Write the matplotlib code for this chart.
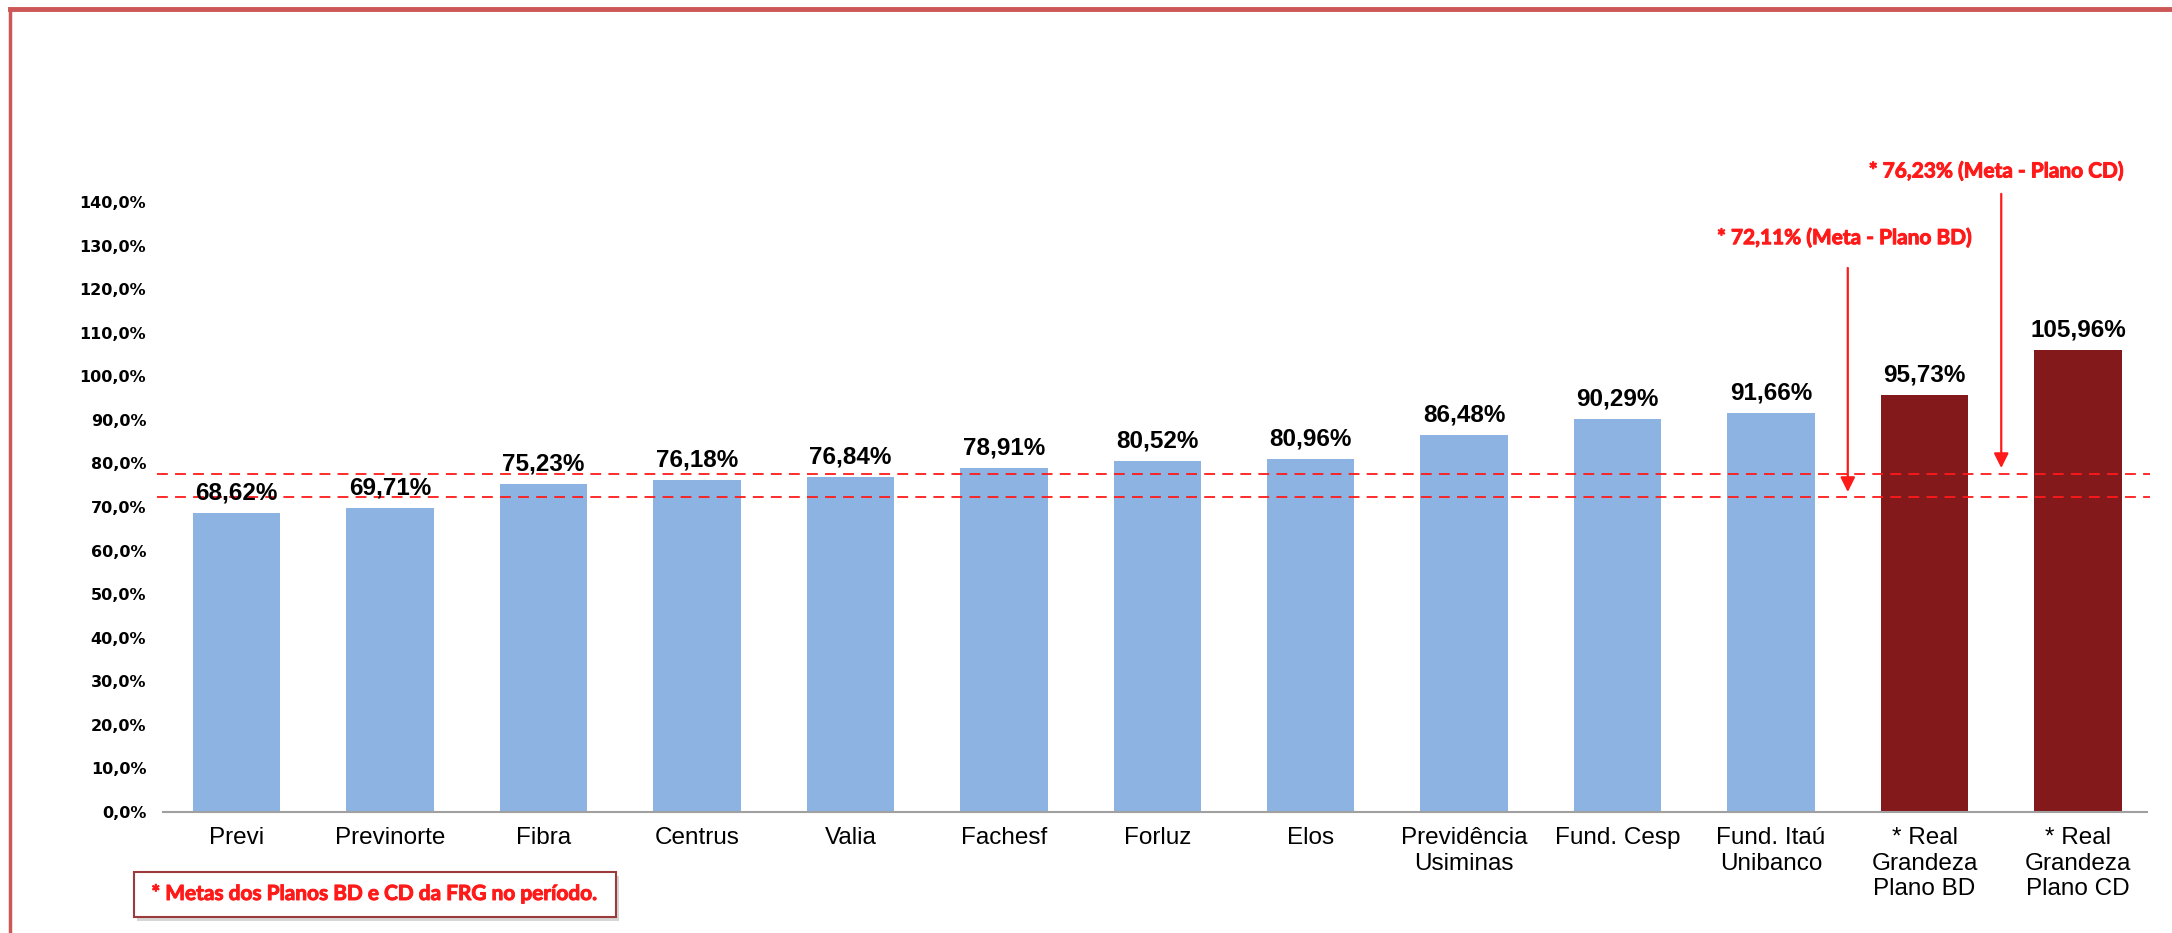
import matplotlib
matplotlib.use("Agg")
import matplotlib.pyplot as plt
import matplotlib.patheffects as pe
from matplotlib.patches import Rectangle
from matplotlib.lines import Line2D

# data
fundos = ['Previ', 'Previnorte', 'Fibra', 'Centrus', 'Valia', 'Fachesf', 'Forluz', 'Elos',
          'Previdência\nUsiminas', 'Fund. Cesp', 'Fund. Itaú\nUnibanco',
          '* Real\nGrandeza\nPlano BD', '* Real\nGrandeza\nPlano CD']
rentab = [68.62, 69.71, 75.23, 76.18, 76.84, 78.91, 80.52, 80.96, 86.48, 90.29, 91.66, 95.73, 105.96]
destaque = [False] * 11 + [True, True]
metas = [72.11, 76.23]
metas_txt = ['* 72,11% (Meta - Plano BD)', '* 76,23% (Meta - Plano CD)']
yticks = list(range(0, 150, 10))

azul = '#8DB3E2'
vinho = '#84191B'
vermelho = '#FF1A1A'
negrito = [pe.withStroke(linewidth=0.7, foreground=vermelho)]

fig = plt.figure(figsize=(21.72, 9.33), dpi=100)
ax = fig.add_axes([0.075, 0.1297, 0.9885 - 0.075, 0.7835 - 0.1297])

cores = [vinho if d else azul for d in destaque]
x = list(range(len(fundos)))
ax.bar(x, rentab, width=0.57, color=cores)

for xi, v in zip(x, rentab):
    ax.annotate(f"{v:.2f}%".replace('.', ','), (xi, v), xytext=(0, 6), textcoords='offset points',
                ha='center', va='bottom', fontsize=17.5, fontweight='bold',
                family='Liberation Sans')

ax.set_xlim(-0.48, 12.45)
ax.set_ylim(0, 140)
ax.set_yticks(yticks)
ax.set_yticklabels([f"{t},0%" for t in yticks], fontsize=11.5, fontweight='bold', family='DejaVu Sans')
ax.set_xticks(x)
ax.set_xticklabels(fundos, fontsize=17.5, family='Liberation Sans', linespacing=1.2)
ax.tick_params(axis='both', length=0)
ax.tick_params(axis='x', pad=11)
ax.tick_params(axis='y', pad=12)
for s in ['top', 'right', 'left']:
    ax.spines[s].set_visible(False)
ax.spines['bottom'].set_color('#A0A0A0')
ax.spines['bottom'].set_linewidth(1.5)

# linhas das metas (tracejadas)
for yl in [72.2, 77.5]:
    ax.plot([-0.52, 12.47], [yl, yl], ls=(0, (6, 4)), color=vermelho, lw=1.3, clip_on=False)

# setas e textos das metas
ax.annotate('', xy=(10.5, 72.8), xytext=(10.5, 125.5),
            arrowprops=dict(arrowstyle='-|>', color=vermelho, lw=1.6, mutation_scale=22),
            annotation_clip=False)
ax.annotate('', xy=(11.5, 78.3), xytext=(11.5, 142.5),
            arrowprops=dict(arrowstyle='-|>', color=vermelho, lw=1.6, mutation_scale=22),
            annotation_clip=False)
ax.text(10.48, 131.7, metas_txt[0], ha='center', va='center', color=vermelho,
        fontsize=15, fontweight='bold', family='Lato', clip_on=False, path_effects=negrito)
ax.text(11.47, 147.0, metas_txt[1], ha='center', va='center', color=vermelho,
        fontsize=15, fontweight='bold', family='Lato', clip_on=False, path_effects=negrito)

# caixa da nota
W, H = 2172, 933
fig.patches.append(Rectangle((137 / W, 1 - 921 / H), 482 / W, 45 / H, transform=fig.transFigure,
                             facecolor='#BBBBBB', edgecolor='none', alpha=0.6, zorder=1))
fig.patches.append(Rectangle((134 / W, 1 - 917 / H), 482 / W, 45 / H, transform=fig.transFigure,
                             facecolor='white', edgecolor='#9B3B3B', lw=1.5, zorder=2))
fig.text(375 / W, 1 - 894 / H, '* Metas dos Planos BD e CD da FRG no período.', ha='center', va='center',
         color=vermelho, fontsize=15, fontweight='bold', family='Lato', zorder=3, path_effects=negrito)

# moldura vermelha
fig.add_artist(Line2D([10 / W, 1], [1 - 9 / H, 1 - 9 / H], color='#CD5656', lw=3.5, transform=fig.transFigure))
fig.add_artist(Line2D([10 / W, 10 / W], [0, 1 - 9 / H], color='#CD5656', lw=2.5, transform=fig.transFigure))

fig.savefig('out.png', dpi=100)
